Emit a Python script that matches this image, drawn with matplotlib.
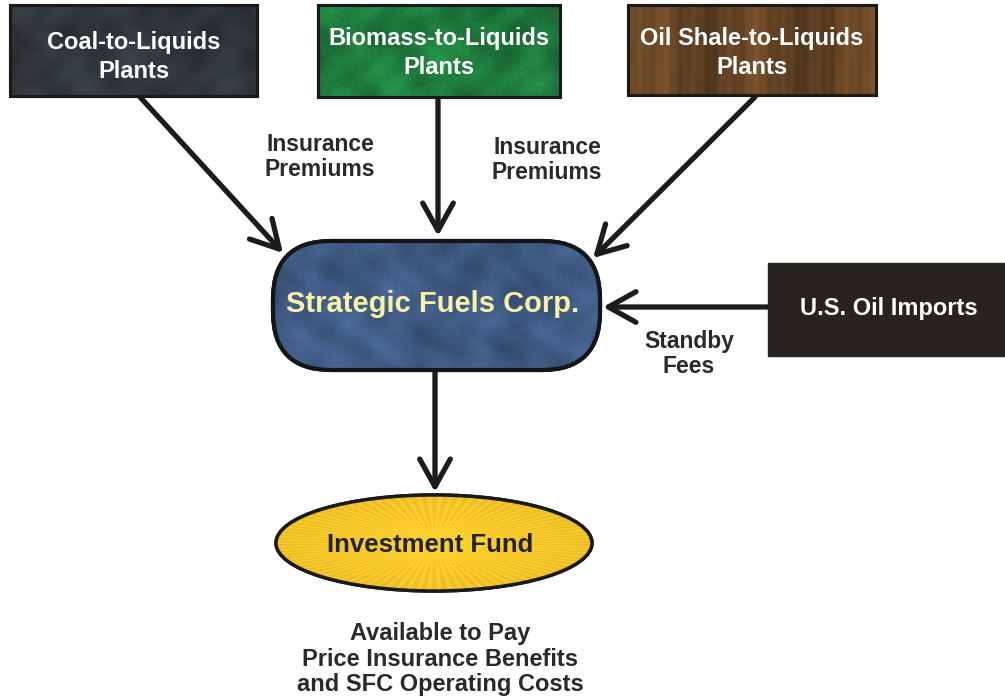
import matplotlib
matplotlib.use("Agg")
import numpy as np
import matplotlib.pyplot as plt
from matplotlib.colors import to_rgb
from matplotlib.patches import Rectangle, FancyBboxPatch, Ellipse, FancyArrowPatch

plt.rcParams['font.family'] = ['Liberation Sans', 'DejaVu Sans']

# Diagram content
source_labels = ["Coal-to-Liquids\nPlants", "Biomass-to-Liquids\nPlants", "Oil Shale-to-Liquids\nPlants"]
source_colors = ["#30373a", "#1f7a3e", "#654425"]
imports_label = "U.S. Oil Imports"
hub_label = "Strategic Fuels Corp."
fund_label = "Investment Fund"
flow_labels = ["Insurance\nPremiums", "Insurance\nPremiums", "Standby\nFees"]
outcome_label = "Available to Pay\nPrice Insurance Benefits\nand SFC Operating Costs"

W, H = 1005, 698
fig = plt.figure(figsize=(W / 100, H / 100), dpi=100)
ax = fig.add_axes([0, 0, 1, 1])
ax.set_xlim(0, W)
ax.set_ylim(H, 0)
ax.axis("off")


def texture(patch, extent, base, kind, amp):
    x0, x1, y0, y1 = extent
    nx, ny = int(x1 - x0), int(y1 - y0)
    X, Y = np.meshgrid(np.arange(nx), np.arange(ny))
    if kind == "mottle":
        p = (np.sin(X * 0.047 + 2.0 * np.sin(Y * 0.031)) * np.sin(Y * 0.061 + 1.7 * np.cos(X * 0.023))
             + 0.7 * np.sin(X * 0.13 + 1.3 * np.sin(Y * 0.09)) * np.cos(Y * 0.11 - 0.9 * np.sin(X * 0.05))
             + 0.25 * np.sin(X * 0.53 + 2.1 * np.sin(Y * 0.37)) * np.sin(Y * 0.41 + 1.9 * np.cos(X * 0.29)))
    elif kind == "streak":
        p = (np.sin(X * 0.06) + 0.6 * np.sin(X * 0.21 + 0.3 * np.sin(Y * 0.1))
             + 0.3 * np.sin(X * 0.7) - 0.8 * np.exp(-((X - 0.62 * nx) / 12.0) ** 2))
    else:  # rays
        cx, cy = nx / 2, ny / 2
        ang = np.arctan2((Y - cy) * 3.3, X - cx)
        r = np.hypot((X - cx) / (nx / 2), (Y - cy) / (ny / 2))
        p = 0.4 * np.cos(ang * 90) + 0.9 * (1 - r)
    p = p / np.abs(p).max()
    rgb = np.clip(np.array(to_rgb(base))[None, None, :] * (1 + amp * p[..., None]), 0, 1)
    im = ax.imshow(rgb, extent=(x0, x1, y1, y0), origin="upper", zorder=2, interpolation="bilinear")
    im.set_clip_path(patch)


# source boxes (x0, y0, w, h)
src_boxes = [(10, 5, 247, 91), (318, 5, 242, 92), (628, 5, 248, 90)]
src_text_y = [57, 53, 53]
kinds = ["mottle", "mottle", "streak"]
for (x0, y0, w, h), lab, col, ty, kd in zip(src_boxes, source_labels, source_colors, src_text_y, kinds):
    r = Rectangle((x0, y0), w, h, facecolor=col, edgecolor="#1a1a1a", lw=2.2, zorder=2)
    ax.add_patch(r)
    texture(r, (x0, x0 + w, y0, y0 + h), col, kd, 0.25)
    ax.add_patch(Rectangle((x0, y0), w, h, facecolor="none", edgecolor="#1a1a1a", lw=2.2, zorder=2.5))
    ax.text(x0 + w / 2, ty, lab, ha="center", va="center", color="white",
            fontsize=17, fontweight="bold", linespacing=1.3, zorder=3)

# imports box
ax.add_patch(Rectangle((768, 263), 240, 93, facecolor="#27231f", edgecolor="#27231f", lw=1, zorder=2))
ax.text(889, 309, imports_label, ha="center", va="center", color="white",
        fontsize=17, fontweight="bold", zorder=3)

# hub
hub = FancyBboxPatch((273, 241), 327, 129,
                     boxstyle="round,pad=0,rounding_size=58",
                     facecolor="#3f5a83", edgecolor="#151515", lw=3, zorder=2)
ax.add_patch(hub)
texture(hub, (273, 600, 241, 370), "#3f5a83", "mottle", 0.2)
ax.add_patch(FancyBboxPatch((273, 241), 327, 129, boxstyle="round,pad=0,rounding_size=58",
                            facecolor="none", edgecolor="#151515", lw=3, zorder=2.5))
ax.text(433, 304, hub_label, ha="center", va="center", color="#f7f2a6",
        fontsize=21, fontweight="bold", zorder=3)

# fund ellipse
ell = Ellipse((434, 543), 316, 96, facecolor="#f0c22a", edgecolor="#1a1a1a", lw=2.5, zorder=2)
ax.add_patch(ell)
texture(ell, (276, 592, 495, 591), "#f0c22a", "rays", 0.12)
ax.add_patch(Ellipse((434, 543), 316, 96, facecolor="none", edgecolor="#1a1a1a", lw=2.5, zorder=2.5))
ax.text(430, 545, fund_label, ha="center", va="center", color="#222222",
        fontsize=18.5, fontweight="bold", zorder=3)

# arrows
arrows = [((140, 97), (283, 253)), ((438, 97), (438, 236)), ((755, 97), (593, 258)),
          ((768, 307), (603, 307)), ((435, 370), (435, 492))]
for (x0, y0), (x1, y1) in arrows:
    ax.add_patch(FancyArrowPatch((x0, y0), (x1, y1), arrowstyle="->,head_length=9,head_width=5",
                                 mutation_scale=2.2, lw=3.8, color="#1c1c1c",
                                 shrinkA=0, shrinkB=0, zorder=1))

# flow labels
flow_pos = [(320, 157), (547, 160), (689, 354)]
for (x, y), lab in zip(flow_pos, flow_labels):
    ax.text(x, y, lab, ha="center", va="center", color="#2a2a2a", fontsize=16.5,
            fontweight="bold", linespacing=1.1)

ax.text(440, 659, outcome_label, ha="center", va="center", color="#2a2a2a",
        fontsize=17, fontweight="bold", linespacing=1.16)

ax.set_xlim(0, W)
ax.set_ylim(H, 0)
fig.savefig("out.png", dpi=100)
